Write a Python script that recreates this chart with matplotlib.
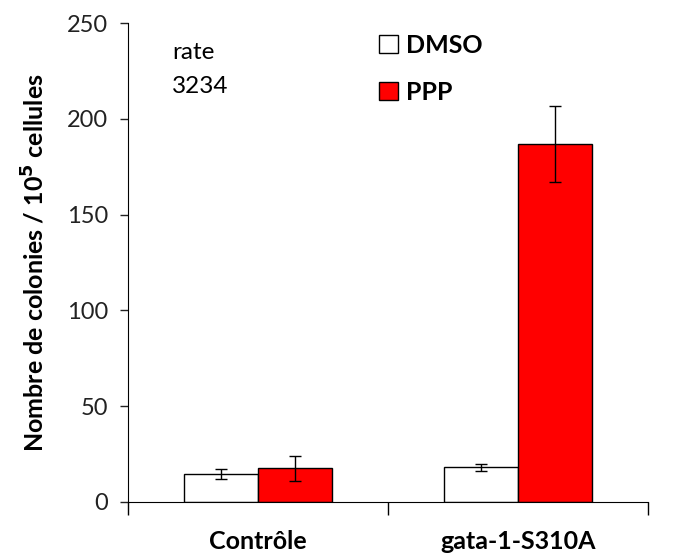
import numpy as np
import matplotlib
matplotlib.use("Agg")
import matplotlib.pyplot as plt

categories = ["Contrôle", "gata-1-S310A"]
dmso = [14.5, 18]
dmso_err = [2.5, 2]
ppp = [17.5, 187]
ppp_err = [6.5, 20]

plt.rcParams['font.family'] = ['Lato', 'DejaVu Sans']

fig = plt.figure(figsize=(6.76, 5.54), dpi=100)
ax = fig.add_axes([0.189, 0.094, 0.77, 0.864])

x = np.arange(len(categories))
w = 0.285
ax.bar(x - w/2, dmso, w, yerr=dmso_err, color='white', edgecolor='black',
       linewidth=1, capsize=4.5, error_kw=dict(elinewidth=1, capthick=1), label='DMSO')
ax.bar(x + w/2, ppp, w, yerr=ppp_err, color='#ff0000', edgecolor='black',
       linewidth=1, capsize=4.5, error_kw=dict(elinewidth=1, capthick=1), label='PPP')

ax.set_xlim(-0.5, 1.5)
ax.set_ylim(0, 250)
ax.set_yticks([0, 50, 100, 150, 200, 250])
ax.tick_params(axis='y', labelsize=17, length=6, width=1, colors='#222222', pad=8)
ax.set_xticks(x)
ax.set_xticklabels(categories, fontsize=18, fontweight='bold')
ax.tick_params(axis='x', length=0, pad=20)
ax.set_xticks([-0.5, 0.5, 1.5], minor=True)
ax.tick_params(axis='x', which='minor', length=9, width=1)
ax.spines['top'].set_visible(False)
ax.spines['right'].set_visible(False)
ax.set_ylabel("Nombre de colonies / 10$^\\mathbf{5}$ cellules", fontsize=18,
              fontweight='bold', labelpad=14)

ax.text(0.085, 0.96, "rate\n3234", transform=ax.transAxes, fontsize=17.5,
        va='top', linespacing=1.75)
ax.legend(loc='upper left', bbox_to_anchor=(0.44, 1.025), frameon=False,
          prop=dict(size=18, weight='bold'), handlelength=0.75, handleheight=0.75,
          handletextpad=0.3, labelspacing=0.95)

fig.savefig("out.png", dpi=100)
